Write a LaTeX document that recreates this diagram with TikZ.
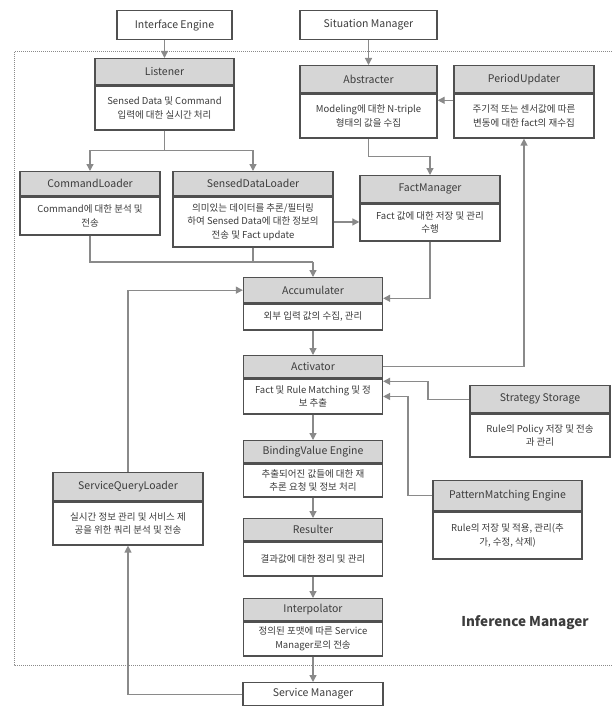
\documentclass[tikz,border=0pt]{standalone}
\usepackage{fontspec}
\setmainfont{Noto Sans CJK KR}
\usetikzlibrary{arrows.meta,calc}

\definecolor{boxline}{HTML}{505050}
\definecolor{headgray}{HTML}{D6D6D6}
\definecolor{arrowgray}{HTML}{8A8A8A}
\definecolor{txtgray}{HTML}{3C3C3C}

\tikzset{
  head/.style={draw=boxline, fill=headgray, line width=1.3pt, inner sep=1pt,
    text=txtgray, font=\fontsize{10.5}{12}\selectfont},
  body/.style={draw=boxline, fill=white, line width=1.3pt, inner sep=1pt,
    align=center, text=txtgray, font=\fontsize{9.5}{13.5}\selectfont},
  plainbox/.style={draw=boxline, fill=white, line width=1.3pt, inner sep=1pt,
    text=txtgray, font=\fontsize{10.5}{12}\selectfont},
  link/.style={draw=arrowgray, line width=1.3pt},
  arr/.style={link, -{Triangle[length=7pt,width=7pt]}},
  frame/.style={draw=arrowgray, line width=1pt, dash pattern=on 1pt off 1pt}
}

% module: id, x, top, width, head height, body height, title, text
\newcommand{\module}[8]{%
  \node[head, minimum width=#4, minimum height=#5, anchor=north] (#1) at (#2,#3) {#7};
  \node[body, minimum width=#4, minimum height=#6, anchor=north] (#1-b) at (#1.south) {#8};
}

\begin{document}
\begin{tikzpicture}[x=1pt,y=-1pt]
\fill[white] (0,0) rectangle (611,706);
\useasboundingbox (0,0) rectangle (611,706);

\draw[frame] (14,52) rectangle (640,665);
\node[font=\bfseries\fontsize{13.5}{15}\selectfont, text=txtgray] (infm) at (525,623) {Inference Manager};

\node[plainbox, minimum width=115, minimum height=29, anchor=north] (ie) at (174.5,10) {Interface Engine};
\node[plainbox, minimum width=137, minimum height=29, anchor=north] (sm) at (368.5,10) {Situation Manager};

\module{lis}{164.5}{58}{139}{26}{44}{Listener}{Sensed Data 및 Command\\입력에 대한 실시간 처리}
\module{abs}{368.5}{65}{137}{27}{44}{Abstracter}{Modeling에 대한 N-triple\\형태의 값을 수집}
\module{per}{524}{65}{140}{27}{44}{PeriodUpdater}{주기적 또는 센서값에 따른\\변동에 대한 fact의 재수집}
\module{cmd}{90}{171}{140}{24}{38}{CommandLoader}{Command에 대한 분석 및\\전송}
\module{sdl}{253}{171}{160}{24}{50}{SensedDataLoader}{의미있는 데이터를 추론/필터링\\하여 Sensed Data에 대한 정보의\\전송 및 Fact update}
\module{fct}{430}{175}{140}{27}{37}{FactManager}{Fact 값에 대한 저장 및 관리\\수행}
\module{acc}{313}{277}{139}{25}{26}{Accumulater}{외부 입력 값의 수집, 관리}
\module{act}{313}{355}{139}{22}{35}{Activator}{Fact 및 Rule Matching 및 정\\보 추출}
\module{ss}{540}{385}{140}{27}{43}{Strategy Storage}{Rule의 Policy 저장 및 전송\\과 관리}
\module{bv}{313}{440}{139}{22}{33}{BindingValue Engine}{추출되어진 값들에 대한 재\\추론 요청 및 정보 처리}
\module{sql}{128}{472}{150}{28}{43}{ServiceQueryLoader}{실시간 정보 관리 및 서비스 제\\공을 위한 쿼리 분석 및 전송}
\module{pm}{507.5}{480}{149}{30}{47}{PatternMatching Engine}{Rule의 저장 및 적용, 관리(추\\가, 수정, 삭제)}
\module{res}{313}{518}{139}{22}{34}{Resulter}{결과값에 대한 정리 및 관리}
\module{itp}{313}{598}{139}{22}{34}{Interpolator}{정의된 포맷에 따른 Service\\Manager로의 전송}

\node[plainbox, minimum width=140, minimum height=23, anchor=north] (svc) at (313,682) {Service Manager};

% top inputs
\draw[arr] (ie.south -| lis.north) -- (lis.north);
\draw[arr] (sm.south) -- (abs.north);

% listener split
\draw[arr] (lis-b.south) -- ++(0,20) -| (cmd.north);
\draw[arr] (lis-b.south) -- ++(0,20) -| (sdl.north);

% abstracter / facts
\draw[arr] ([yshift=-7pt]per-b.north west) -- ([yshift=-7pt]abs-b.north east);
\draw[arr] (abs-b.south) -- ++(0,18) -| (fct.north);
\draw[arr] (sdl-b.east) -- (sdl-b.east -| fct-b.west);

% into accumulater
\coordinate (merge) at (313,262);
\draw[link] (cmd-b.south) |- (merge);
\draw[link] (sdl-b.south) -- (sdl-b.south |- merge);
\draw[arr] (merge) -- (acc.north);
\draw[arr] (fct-b.south) |- ([yshift=5pt]acc.south east);

% main column
\draw[arr] (acc-b.south) -- (act.north);
\draw[arr] (act-b.south) -- (bv.north);
\draw[arr] (bv-b.south) -- (res.north);
\draw[arr] (res-b.south) -- (itp.north);
\draw[arr] (itp-b.south) -- (svc.north);

% activator links
\draw[arr] (act.east) -| (per-b.south);
\coordinate (ssx) at (428,0);
\coordinate (pmx) at (408,0);
\coordinate (ssin) at ([yshift=-3pt]act-b.north east);
\draw[arr] (ss.west) -| (ssin -| ssx) -- (ssin);
\draw[arr] (pm.west) -| (act-b.east -| pmx) -- (act-b.east);

% service loop
\draw[arr] (svc.west) -| (sql-b.south);
\draw[arr] (sql.north) |- (acc.west);

\end{tikzpicture}
\end{document}
